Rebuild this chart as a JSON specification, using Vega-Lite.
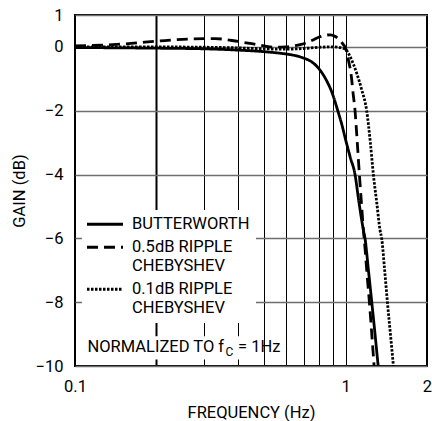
{
  "$schema": "https://vega.github.io/schema/vega-lite/v6.json",
  "width": 352,
  "height": 351,
  "autosize": "none",
  "padding": {"left": 75, "top": 15, "right": 5, "bottom": 55},
  "background": "white",
  "config": {
    "view": {"stroke": "black", "strokeWidth": 2},
    "font": "Roboto",
    "axis": {
      "labelFont": "Roboto", "labelFontSize": 16.5, "labelColor": "black",
      "titleFont": "Roboto", "titleFontSize": 16.5, "titleFontWeight": "normal", "titleColor": "black",
      "domain": false, "ticks": false
    }
  },
  "datasets": {
    "curves": [
      {"f": 0.1, "gain": -0.02, "series": "BUTTERWORTH"},
      {"f": 0.2, "gain": -0.04, "series": "BUTTERWORTH"},
      {"f": 0.3, "gain": -0.06, "series": "BUTTERWORTH"},
      {"f": 0.4, "gain": -0.1, "series": "BUTTERWORTH"},
      {"f": 0.5, "gain": -0.15, "series": "BUTTERWORTH"},
      {"f": 0.6, "gain": -0.22, "series": "BUTTERWORTH"},
      {"f": 0.65, "gain": -0.27, "series": "BUTTERWORTH"},
      {"f": 0.7, "gain": -0.35, "series": "BUTTERWORTH"},
      {"f": 0.75, "gain": -0.47, "series": "BUTTERWORTH"},
      {"f": 0.8, "gain": -0.7, "series": "BUTTERWORTH"},
      {"f": 0.85, "gain": -1.05, "series": "BUTTERWORTH"},
      {"f": 0.89, "gain": -1.42, "series": "BUTTERWORTH"},
      {"f": 0.936, "gain": -2.0, "series": "BUTTERWORTH"},
      {"f": 0.97, "gain": -2.45, "series": "BUTTERWORTH"},
      {"f": 1.0, "gain": -2.9, "series": "BUTTERWORTH"},
      {"f": 1.04, "gain": -3.45, "series": "BUTTERWORTH"},
      {"f": 1.084, "gain": -4.0, "series": "BUTTERWORTH"},
      {"f": 1.12, "gain": -4.85, "series": "BUTTERWORTH"},
      {"f": 1.164, "gain": -5.74, "series": "BUTTERWORTH"},
      {"f": 1.18, "gain": -6.0, "series": "BUTTERWORTH"},
      {"f": 1.215, "gain": -7.0, "series": "BUTTERWORTH"},
      {"f": 1.25, "gain": -8.0, "series": "BUTTERWORTH"},
      {"f": 1.285, "gain": -9.0, "series": "BUTTERWORTH"},
      {"f": 1.32, "gain": -10.0, "series": "BUTTERWORTH"},

      {"f": 0.1, "gain": 0.03, "series": "0.5dB RIPPLE|CHEBYSHEV"},
      {"f": 0.15, "gain": 0.09, "series": "0.5dB RIPPLE|CHEBYSHEV"},
      {"f": 0.215, "gain": 0.2, "series": "0.5dB RIPPLE|CHEBYSHEV"},
      {"f": 0.27, "gain": 0.25, "series": "0.5dB RIPPLE|CHEBYSHEV"},
      {"f": 0.33, "gain": 0.26, "series": "0.5dB RIPPLE|CHEBYSHEV"},
      {"f": 0.4, "gain": 0.17, "series": "0.5dB RIPPLE|CHEBYSHEV"},
      {"f": 0.45, "gain": 0.1, "series": "0.5dB RIPPLE|CHEBYSHEV"},
      {"f": 0.5, "gain": 0.03, "series": "0.5dB RIPPLE|CHEBYSHEV"},
      {"f": 0.55, "gain": -0.01, "series": "0.5dB RIPPLE|CHEBYSHEV"},
      {"f": 0.6, "gain": 0.0, "series": "0.5dB RIPPLE|CHEBYSHEV"},
      {"f": 0.65, "gain": 0.04, "series": "0.5dB RIPPLE|CHEBYSHEV"},
      {"f": 0.7, "gain": 0.1, "series": "0.5dB RIPPLE|CHEBYSHEV"},
      {"f": 0.75, "gain": 0.2, "series": "0.5dB RIPPLE|CHEBYSHEV"},
      {"f": 0.8, "gain": 0.31, "series": "0.5dB RIPPLE|CHEBYSHEV"},
      {"f": 0.85, "gain": 0.37, "series": "0.5dB RIPPLE|CHEBYSHEV"},
      {"f": 0.88, "gain": 0.38, "series": "0.5dB RIPPLE|CHEBYSHEV"},
      {"f": 0.92, "gain": 0.32, "series": "0.5dB RIPPLE|CHEBYSHEV"},
      {"f": 0.955, "gain": 0.2, "series": "0.5dB RIPPLE|CHEBYSHEV"},
      {"f": 0.98, "gain": 0.08, "series": "0.5dB RIPPLE|CHEBYSHEV"},
      {"f": 1.0, "gain": -0.03, "series": "0.5dB RIPPLE|CHEBYSHEV"},
      {"f": 1.024, "gain": -0.4, "series": "0.5dB RIPPLE|CHEBYSHEV"},
      {"f": 1.054, "gain": -1.03, "series": "0.5dB RIPPLE|CHEBYSHEV"},
      {"f": 1.063, "gain": -1.35, "series": "0.5dB RIPPLE|CHEBYSHEV"},
      {"f": 1.084, "gain": -2.0, "series": "0.5dB RIPPLE|CHEBYSHEV"},
      {"f": 1.105, "gain": -3.0, "series": "0.5dB RIPPLE|CHEBYSHEV"},
      {"f": 1.125, "gain": -4.0, "series": "0.5dB RIPPLE|CHEBYSHEV"},
      {"f": 1.145, "gain": -4.9, "series": "0.5dB RIPPLE|CHEBYSHEV"},
      {"f": 1.164, "gain": -5.74, "series": "0.5dB RIPPLE|CHEBYSHEV"},
      {"f": 1.18, "gain": -6.3, "series": "0.5dB RIPPLE|CHEBYSHEV"},
      {"f": 1.2, "gain": -7.1, "series": "0.5dB RIPPLE|CHEBYSHEV"},
      {"f": 1.225, "gain": -8.0, "series": "0.5dB RIPPLE|CHEBYSHEV"},
      {"f": 1.25, "gain": -9.0, "series": "0.5dB RIPPLE|CHEBYSHEV"},
      {"f": 1.275, "gain": -10.0, "series": "0.5dB RIPPLE|CHEBYSHEV"},

      {"f": 0.1, "gain": 0.0, "series": "0.1dB RIPPLE|CHEBYSHEV"},
      {"f": 0.2, "gain": 0.0, "series": "0.1dB RIPPLE|CHEBYSHEV"},
      {"f": 0.3, "gain": -0.01, "series": "0.1dB RIPPLE|CHEBYSHEV"},
      {"f": 0.4, "gain": -0.03, "series": "0.1dB RIPPLE|CHEBYSHEV"},
      {"f": 0.5, "gain": -0.06, "series": "0.1dB RIPPLE|CHEBYSHEV"},
      {"f": 0.6, "gain": -0.07, "series": "0.1dB RIPPLE|CHEBYSHEV"},
      {"f": 0.7, "gain": -0.05, "series": "0.1dB RIPPLE|CHEBYSHEV"},
      {"f": 0.8, "gain": -0.01, "series": "0.1dB RIPPLE|CHEBYSHEV"},
      {"f": 0.9, "gain": 0.0, "series": "0.1dB RIPPLE|CHEBYSHEV"},
      {"f": 0.95, "gain": -0.02, "series": "0.1dB RIPPLE|CHEBYSHEV"},
      {"f": 1.0, "gain": -0.08, "series": "0.1dB RIPPLE|CHEBYSHEV"},
      {"f": 1.039, "gain": -0.3, "series": "0.1dB RIPPLE|CHEBYSHEV"},
      {"f": 1.07, "gain": -0.55, "series": "0.1dB RIPPLE|CHEBYSHEV"},
      {"f": 1.1, "gain": -0.83, "series": "0.1dB RIPPLE|CHEBYSHEV"},
      {"f": 1.148, "gain": -1.35, "series": "0.1dB RIPPLE|CHEBYSHEV"},
      {"f": 1.197, "gain": -2.0, "series": "0.1dB RIPPLE|CHEBYSHEV"},
      {"f": 1.235, "gain": -3.0, "series": "0.1dB RIPPLE|CHEBYSHEV"},
      {"f": 1.267, "gain": -4.0, "series": "0.1dB RIPPLE|CHEBYSHEV"},
      {"f": 1.305, "gain": -4.9, "series": "0.1dB RIPPLE|CHEBYSHEV"},
      {"f": 1.341, "gain": -5.74, "series": "0.1dB RIPPLE|CHEBYSHEV"},
      {"f": 1.36, "gain": -6.0, "series": "0.1dB RIPPLE|CHEBYSHEV"},
      {"f": 1.395, "gain": -7.0, "series": "0.1dB RIPPLE|CHEBYSHEV"},
      {"f": 1.428, "gain": -8.0, "series": "0.1dB RIPPLE|CHEBYSHEV"},
      {"f": 1.465, "gain": -9.0, "series": "0.1dB RIPPLE|CHEBYSHEV"},
      {"f": 1.503, "gain": -10.0, "series": "0.1dB RIPPLE|CHEBYSHEV"}
    ]
  },
  "layer": [
    {
      "data": {"name": "curves"},
      "mark": {"type": "line", "color": "black", "strokeWidth": 2.8, "clip": true, "interpolate": "monotone", "strokeCap": "butt"},
      "encoding": {
        "x": {
          "field": "f", "type": "quantitative",
          "scale": {"type": "log", "domain": [0.1, 2], "nice": false},
          "axis": {
            "title": "FREQUENCY (Hz)",
            "values": [0.1, 0.2, 0.3, 0.4, 0.5, 0.6, 0.7, 0.8, 0.9, 1, 2],
            "labelExpr": "datum.value == 0.1 || datum.value == 1 || datum.value == 2 ? format(datum.value, '~g') : ''",
            "grid": true,
            "gridColor": "black",
            "gridOpacity": 1,
            "gridWidth": {"condition": {"test": "datum.value == 0.2", "value": 2}, "value": 1},
            "labelPadding": 12,
            "titlePadding": 10,
            "labelFlush": false,
            "labelOverlap": false
          }
        },
        "y": {
          "field": "gain", "type": "quantitative",
          "scale": {"domain": [-10, 1], "nice": false, "zero": false},
          "axis": {
            "title": "GAIN (dB)",
            "values": [1, 0, -2, -4, -6, -8, -10],
            "grid": true,
            "gridColor": "#6e6e6e",
            "gridOpacity": 1,
            "gridWidth": 1.5,
            "labelPadding": 12,
            "titlePadding": 8,
            "labelFlush": false,
            "labelOverlap": false
          }
        },
        "strokeDash": {
          "field": "series", "type": "nominal",
          "scale": {
            "domain": ["BUTTERWORTH", "0.5dB RIPPLE|CHEBYSHEV", "0.1dB RIPPLE|CHEBYSHEV"],
            "range": [[1, 0], [11, 6], [2.5, 1.5]]
          },
          "legend": {
            "title": null,
            "orient": "none",
            "legendX": 7,
            "legendY": 195,
            "fillColor": "white",
            "padding": 6,
            "symbolType": "M-4,0H4",
            "symbolSize": 81,
            "symbolStrokeWidth": 3,
            "symbolStrokeColor": "black",
            "symbolOffset": 8.75,
            "labelFont": "Roboto",
            "labelFontSize": 16.5,
            "labelColor": "black",
            "labelOffset": 18.75,
            "labelLimit": 300,
            "rowPadding": 6,
            "labelExpr": "split(datum.label, '|')"
          }
        }
      }
    },
    {
      "data": {"values": [{}]},
      "mark": {"type": "rect", "color": "white", "opacity": 1},
      "encoding": {
        "x": {"datum": 0.103},
        "x2": {"datum": 0.46},
        "y": {"datum": -9.07},
        "y2": {"datum": -9.8}
      }
    },
    {
      "data": {"values": [{}]},
      "mark": {"type": "text", "text": "NORMALIZED TO f", "align": "right", "baseline": "middle", "font": "Roboto", "fontSize": 16.5, "color": "black"},
      "encoding": {"x": {"datum": 0.3556}, "y": {"datum": -9.39}}
    },
    {
      "data": {"values": [{}]},
      "mark": {"type": "text", "text": "C", "align": "left", "baseline": "middle", "font": "Roboto", "fontSize": 12, "color": "black", "dx": 1.5, "dy": 5},
      "encoding": {"x": {"datum": 0.3556}, "y": {"datum": -9.39}}
    },
    {
      "data": {"values": [{}]},
      "mark": {"type": "text", "text": "= 1Hz", "align": "left", "baseline": "middle", "font": "Roboto", "fontSize": 16.5, "color": "black", "dx": 14},
      "encoding": {"x": {"datum": 0.3556}, "y": {"datum": -9.39}}
    }
  ]
}
